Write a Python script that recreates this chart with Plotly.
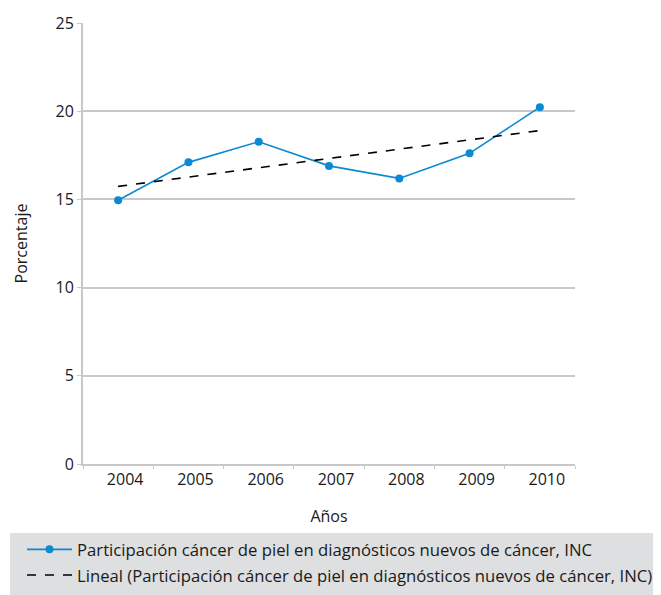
import numpy as np
import plotly.graph_objects as go

years = ["2004", "2005", "2006", "2007", "2008", "2009", "2010"]
participacion = [14.95, 17.1, 18.27, 16.9, 16.19, 17.61, 20.23]
y_ticks = [0, 5, 10, 15, 20, 25]

name_main = "Participación cáncer de piel en diagnósticos nuevos de cáncer, INC"
name_trend = "Lineal (Participación cáncer de piel en diagnósticos nuevos de cáncer, INC)"

# linear trendline (least squares over category index), as Excel does
idx = np.arange(len(years))
slope, intercept = np.polyfit(idx, participacion, 1)
trend = [float(intercept + slope * i) for i in idx]

FONT = "Open Sans"
BLUE = "#0a8ad2"
GRID = "#c8c8c8"

# page body has an 8px margin: figure is sized/placed to compensate
W, H = 653, 587
L, T, R, B = 75, 15, 86, 131
PW, PH = W - L - R, H - T - B

fig = go.Figure()
fig.add_trace(go.Scatter(
    x=years, y=participacion, name=name_main, mode="lines+markers",
    line=dict(color=BLUE, width=1.6),
    marker=dict(color=BLUE, size=8),
    legendgroup="a",
))
fig.add_trace(go.Scatter(
    x=years, y=trend, name=name_trend, mode="lines",
    line=dict(color="black", width=1.6, dash="dash"),
    legendgroup="b",
))

fig.add_shape(type="rect", xref="paper", yref="paper",
              x0=(2 - L) / PW, x1=(W + 10 - L) / PW,
              y0=-(B + 10) / PH, y1=-(525 - (H - B)) / PH,
              fillcolor="#dedfe0", line=dict(width=0), layer="below")

fig.update_layout(
    width=W, height=H,
    margin=dict(l=L, r=R, t=T, b=B, autoexpand=False),
    plot_bgcolor="white", paper_bgcolor="white",
    font=dict(family=FONT, size=14, color="#1a1a1a"),
    showlegend=True,
    legend=dict(
        x=(14 - L) / PW, y=-(524 - (H - B)) / PH, xanchor="left", yanchor="top",
        bgcolor="rgba(0,0,0,0)", font=dict(size=16.7, family=FONT),
        traceorder="grouped", tracegroupgap=1, itemwidth=45,
    ),
    xaxis=dict(
        type="category", range=[-0.5, len(years) - 0.5],
        tickson="boundaries", ticks="outside", ticklen=3,
        tickcolor=GRID, showline=True, linecolor=GRID, linewidth=2,
        showgrid=False, tickfont=dict(size=16), ticklabelshift=7,
        title=dict(text="Años", font=dict(size=16), standoff=22),
    ),
    yaxis=dict(
        range=[0, 25], tickvals=y_ticks, ticks="outside", ticklen=4,
        tickcolor=GRID, showline=True, linecolor=GRID, linewidth=2,
        gridcolor=GRID, gridwidth=2, zeroline=False,
        tickfont=dict(size=16),
        title=dict(text="Porcentaje", font=dict(size=16), standoff=24),
    ),
)

fig.write_html("out.html")
